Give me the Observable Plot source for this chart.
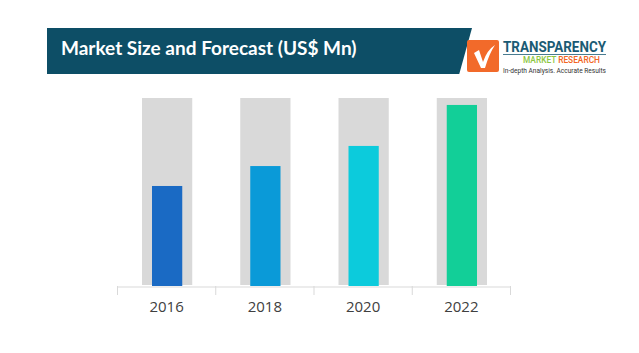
<!DOCTYPE html>
<html>
<head>
<meta charset="utf-8">
<script src="https://cdn.jsdelivr.net/npm/d3@7"></script>
<script src="https://cdn.jsdelivr.net/npm/@observablehq/plot@0.6"></script>
<style>
  html, body { margin: 0; padding: 0; background: #fff; }
  #wrap { position: relative; width: 639px; height: 353px; overflow: hidden; }
  #banner {
    position: absolute; left: 47px; top: 28px; width: 425px; height: 46px;
    background: #0d4e66;
    clip-path: polygon(0 0, 100% 0, 97% 100%, 0 100%);
  }
  #title {
    position: absolute; left: 61px; top: 36px;
    font-family: Lato, "Open Sans", sans-serif; font-weight: 700; font-size: 19px;
    color: #fff; white-space: nowrap;
  }
  #logo { position: absolute; left: 465px; top: 32px; }
  #chart { position: absolute; left: 0; top: 0; }
</style>
</head>
<body>
<div id="wrap">
  <div id="chart"></div>
  <div id="banner"></div>
  <div id="title">Market Size and Forecast (US$ Mn)</div>
  <svg id="logo" width="165" height="48" viewBox="0 0 165 48">
    <rect x="2" y="8" width="32" height="32" rx="2" fill="#f26a2a"/>
    <path d="M9 21 L14 18 L18 30 Q22 18 30 13 Q24 22 20 36 L16 36 Z" fill="#fff"/>
    <text x="38" y="20" textLength="103" lengthAdjust="spacingAndGlyphs"
      font-family="Roboto, sans-serif" font-weight="700" font-size="14" fill="#1b5b74">TRANSPARENCY</text>
    <line x1="38" y1="22.5" x2="141" y2="22.5" stroke="#1b5b74" stroke-width="0.8"/>
    <text x="58" y="31" textLength="77" lengthAdjust="spacingAndGlyphs"
      font-family="Roboto, sans-serif" font-weight="500" font-size="9"><tspan fill="#8cc63f">MARKET </tspan><tspan fill="#f26522">RESEARCH</tspan></text>
    <text x="38" y="40.5" textLength="103" lengthAdjust="spacingAndGlyphs"
      font-family="Roboto, sans-serif" font-size="6.5" fill="#333">In-depth Analysis. Accurate Results</text>
  </svg>
</div>
<script>
const years = ["2016", "2018", "2020", "2022"];
const values = [53.2, 63.8, 74.5, 96.3];
const backgroundMax = [100, 100, 100, 100];
const barColors = ["#1a6ac4", "#0a9ad8", "#0ccbdc", "#12cf98"];

const rows = years.map((year, i) => ({year, i, value: values[i], bg: backgroundMax[i], color: barColors[i]}));

const chart = Plot.plot({
  width: 639,
  height: 353,
  marginTop: 98,
  marginBottom: 67,
  marginLeft: 117,
  marginRight: 129,
  style: {background: "transparent", overflow: "visible"},
  x: {type: "linear", domain: [0, years.length]},
  y: {domain: [0, 100], axis: null},
  marks: [
    Plot.rectY(rows, {x1: d => d.i, x2: d => d.i + 1, y1: 0, y2: d => d.bg,
      fill: "#d9d9d9", insetLeft: 25, insetRight: 23, insetBottom: 1}),
    Plot.rectY(rows, {x1: d => d.i, x2: d => d.i + 1, y1: 0, y2: d => d.value,
      fill: d => d.color, insetLeft: 35, insetRight: 33}),
    Plot.ruleY([0], {x1: 0, x2: years.length, stroke: "#d9d9d9", strokeWidth: 1, dy: 0.5}),
    Plot.axisX({ticks: d3.range(years.length + 1), tickFormat: () => "", tickSize: 9, stroke: "#d9d9d9", strokeOpacity: 1}),
    Plot.axisX({ticks: years.map((_, i) => i + 0.5), tickFormat: d => years[Math.floor(d)],
      tickSize: 0, tickPadding: 15, fontSize: 15, fill: "#404040",
      fontFamily: "Open Sans, sans-serif"})
  ]
});
document.getElementById("chart").appendChild(chart);
</script>
</body>
</html>
